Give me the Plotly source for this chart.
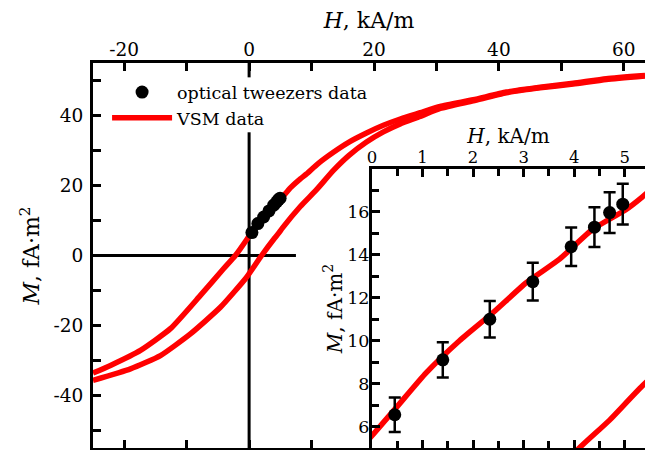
import plotly.graph_objects as go

# ---------------- data ----------------
# VSM hysteresis loop, upper (descending) branch
H_up = [-25.0, -22.2, -17.4, -12.6, -7.8, -4.1, -2.2, -0.4, 0.45, 1.07, 1.73,
        2.39, 3.05, 3.71, 4.37, 5.02, 5.35, 6.6, 8.2, 9.2, 11.0, 13.5, 16.0, 18.8, 21.5,
        24.2, 27.4, 30.6, 35.9, 41.2, 46.6, 51.9, 57.2, 63.4]
M_up = [-33.6, -31.4, -27.1, -20.9, -11.4, -3.8, 0.0, 4.5, 6.8, 8.5, 10.0,
        11.3, 12.7, 13.8, 15.2, 16.1, 16.7, 19.3, 21.9, 23.3, 26.2, 29.5, 32.4, 35.0, 37.2,
        39.0, 40.8, 42.6, 44.5, 46.7, 48.1, 49.2, 50.5, 51.4]
# VSM hysteresis loop, lower (ascending) branch
H_lo = [-25.0, -19.0, -14.2, -9.4, -4.6, -0.4, 2.0, 4.1, 4.7, 5.35, 8.2, 10.8,
        13.5, 16.0, 18.8, 21.5, 24.2, 27.4, 30.6, 35.9, 41.2, 46.6, 51.9, 57.2, 63.4]
M_lo = [-35.7, -32.4, -28.6, -22.4, -14.8, -6.2, 0.0, 5.0, 6.3, 7.9, 14.0, 18.8,
        24.3, 28.6, 32.4, 35.3, 37.6, 39.7, 42.0, 44.2, 46.5, 47.9, 49.0, 50.3, 51.3]

# optical tweezers data
H_ot = [0.45, 1.40, 2.33, 3.18, 3.94, 4.40, 4.70, 4.96]
M_ot = [6.55, 9.11, 11.0, 12.75, 14.38, 15.29, 15.97, 16.36]
M_ot_err = [0.8, 0.82, 0.85, 0.88, 0.9, 0.93, 0.95, 0.95]

# ticks
main_x_ticks = [-20, 0, 20, 40, 60]
main_x_text = ["-20", "0", "20", "40", "60"]
main_y_ticks = [-40, -20, 0, 20, 40]
main_y_text = ["-40", "-20", "0", "20", "40"]
ins_x_ticks = [0, 1, 2, 3, 4, 5]
ins_y_ticks = [6, 8, 10, 12, 14, 16]

main_x_range = [-25, 63.4]
main_y_range = [-55, 55]
ins_x_range = [0, 5.4]
ins_y_range = [5, 18]

FONT = "DejaVu Serif"
RED = "#ff0000"

fig = go.Figure()

line_style = dict(color=RED, width=5.5, shape="spline", smoothing=0.5)

# main plot
fig.add_trace(go.Scatter(x=H_lo, y=M_lo, mode="lines", name="VSM data",
                         line=line_style, legendgroup="vsm", showlegend=False,
                         xaxis="x", yaxis="y"))
fig.add_trace(go.Scatter(x=H_up, y=M_up, mode="lines", name="VSM data",
                         line=line_style, legendgroup="vsm", showlegend=True,
                         xaxis="x", yaxis="y"))
fig.add_trace(go.Scatter(x=H_ot, y=M_ot, mode="markers", name="optical tweezers data",
                         marker=dict(color="black", size=13),
                         showlegend=True, xaxis="x", yaxis="y"))

# inset
fig.add_trace(go.Scatter(x=H_lo, y=M_lo, mode="lines", showlegend=False,
                         line=line_style, xaxis="x2", yaxis="y2"))
fig.add_trace(go.Scatter(x=H_up, y=M_up, mode="lines", showlegend=False,
                         line=line_style, xaxis="x2", yaxis="y2"))
fig.add_trace(go.Scatter(x=H_ot, y=M_ot, mode="markers", showlegend=False,
                         marker=dict(color="black", size=13),
                         error_y=dict(type="data", array=M_ot_err, color="black",
                                      thickness=2.5, width=6),
                         xaxis="x2", yaxis="y2"))

# reference lines at H = 0 and M = 0
fig.add_shape(type="line", xref="x", yref="y", x0=0, x1=0,
              y0=main_y_range[0], y1=main_y_range[1],
              line=dict(color="black", width=3), layer="below")
fig.add_shape(type="line", xref="x", yref="y", x0=main_x_range[0], x1=7.5,
              y0=0, y1=0, line=dict(color="black", width=3), layer="below")
# legend background gap in the H = 0 line
fig.add_shape(type="rect", xref="x", yref="y", x0=-0.6, x1=0.6, y0=35.2, y1=50.9,
              fillcolor="white", line=dict(width=0), layer="below")

tick_common = dict(ticks="inside", ticklen=8, tickwidth=3, tickcolor="black",
                   showline=True, linewidth=3, linecolor="black",
                   showgrid=False, zeroline=False)

ins_x0 = (372 - 93) / 552
ins_y1 = (448 - 169) / 385

fig.update_layout(
    width=645, height=450,
    margin=dict(l=93, r=0, t=63, b=2),
    paper_bgcolor="white", plot_bgcolor="white",
    font=dict(family=FONT, color="black", size=18),
    showlegend=True,
    legend=dict(x=0.0255, y=0.971, xanchor="left", yanchor="top",
                bgcolor="rgba(0,0,0,0)", borderwidth=0, font=dict(size=17.5, family=FONT),
                traceorder="reversed", itemwidth=60, tracegroupgap=0),
    xaxis=dict(side="top", range=main_x_range, tickmode="array",
               tickvals=main_x_ticks, ticktext=main_x_text,
               minor=dict(tickmode="linear", tick0=0, dtick=10, ticks="inside",
                          ticklen=8, tickwidth=3, tickcolor="black"),
               mirror="ticks", tickfont=dict(size=18.5, family=FONT), ticklabelstandoff=-3,
               title=dict(text="<i>H</i>, kA/m", font=dict(size=22, family=FONT), standoff=4),
               anchor="y", **tick_common),
    yaxis=dict(range=main_y_range, tickmode="array",
               tickvals=main_y_ticks, ticktext=main_y_text,
               minor=dict(tickmode="linear", tick0=0, dtick=10, ticks="inside",
                          ticklen=8, tickwidth=3, tickcolor="black"),
               mirror=False, tickfont=dict(size=18.5, family=FONT), ticklabelstandoff=3,
               title=dict(text="<i>M</i>, fA·m<sup>2</sup>", font=dict(size=22, family=FONT),
                          standoff=8),
               anchor="x", **tick_common),
    xaxis2=dict(domain=[ins_x0, 1.0], side="top", range=ins_x_range, tickmode="array",
                tickvals=ins_x_ticks,
                minor=dict(tickmode="linear", tick0=0, dtick=0.5, ticks="inside",
                           ticklen=7, tickwidth=3, tickcolor="black"),
                mirror="ticks", tickfont=dict(size=16.5, family=FONT), ticklabelstandoff=-4,
                title=dict(text="<i>H</i>, kA/m", font=dict(size=20, family=FONT), standoff=0),
                anchor="y2", **tick_common),
    yaxis2=dict(domain=[0, ins_y1], range=ins_y_range, tickmode="array",
                tickvals=ins_y_ticks,
                minor=dict(tickmode="linear", tick0=0, dtick=1, ticks="inside",
                           ticklen=7, tickwidth=3, tickcolor="black"),
                mirror=False, tickfont=dict(size=17.5, family=FONT), ticklabelstandoff=-4,
                title=dict(text="<i>M</i>, fA·m<sup>2</sup>", font=dict(size=20, family=FONT),
                           standoff=0),
                anchor="x2", **tick_common),
)

fig.write_html("out.html")
